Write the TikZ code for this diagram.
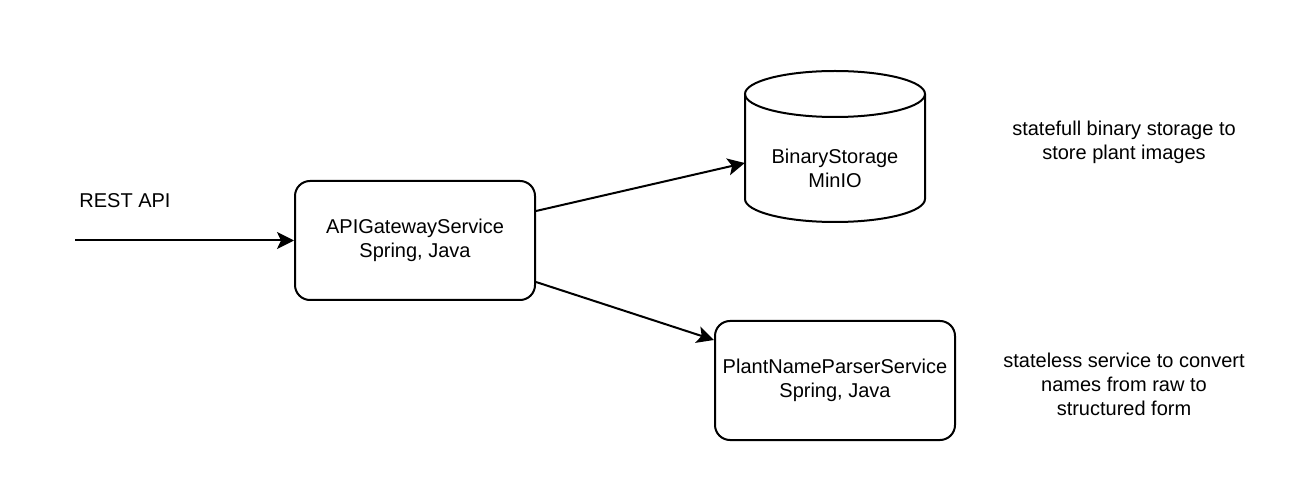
\documentclass[tikz,border=0pt]{standalone}
\usepackage{fontspec}
\setmainfont{Liberation Sans}
\usetikzlibrary{arrows.meta,positioning}

\tikzset{
    svc/.style={draw,line width=2pt,rounded corners=15pt,minimum width=240pt,minimum height=119pt,align=center},
    note/.style={align=center},
    link/.style={line width=2pt,-{Stealth[length=17pt,width=17pt,inset=4pt]}}
}

\begin{document}
\begin{tikzpicture}[x=1pt,y=-1pt,font=\fontsize{20}{24}\selectfont]
    \useasboundingbox (0,0) rectangle (1316,502);

    % services
    \node[svc] (gw) at (415,240.5) {APIGatewayService\\Spring, Java};
    \node[svc] (parser) at (835,380.5) {PlantNameParserService\\Spring, Java};

    % storage drum
    \draw[line width=2pt] (745,94) -- (745,199)
        arc[start angle=180,end angle=360,x radius=90pt,y radius=23pt] -- (925,94);
    \draw[line width=2pt] (835,94) ellipse[x radius=90pt,y radius=23pt];
    \node[minimum width=180pt,minimum height=150pt] (store) at (835,147) {};
    \node[align=center] (storelbl) at (835,168) {BinaryStorage\\MinIO};

    % entry point
    \coordinate (rest) at (75,240.5);
    \node (restlbl) at (125,201) {REST API};

    \draw[link] (rest) -- (gw.west);
    \draw[link] ([yshift=29.5pt]gw.east) -- ([yshift=-16pt]store.west);
    \draw[link] ([yshift=-41.5pt]gw.east) -- ([yshift=40.5pt]parser.west);

    % notes
    \node[note] (storenote) at (1124,142) {statefull binary storage to\\store plant images};
    \node[note] (parsernote) at (1124,384) {stateless service to convert\\names from raw to\\structured form};
\end{tikzpicture}
\end{document}
